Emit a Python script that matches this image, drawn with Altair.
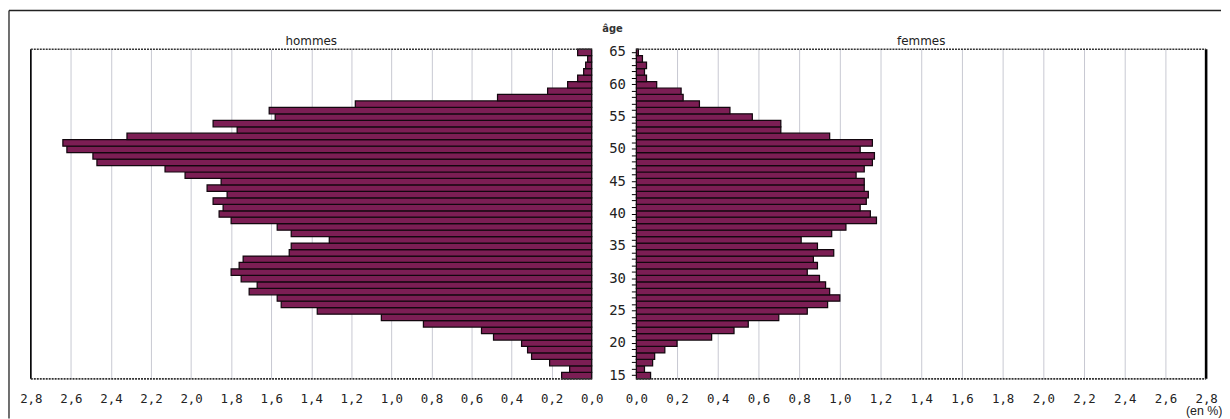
import altair as alt
import pandas as pd

# ---------------- data ----------------
ages = list(range(15, 66))  # 15 .. 65

hommes = [0.15, 0.11, 0.21, 0.30, 0.32, 0.35, 0.49, 0.55, 0.84, 1.05,   # 15-24
          1.37, 1.55, 1.57, 1.71, 1.67,                                 # 25-29
          1.75, 1.80, 1.76, 1.74, 1.51, 1.50, 1.31, 1.50, 1.57, 1.80,   # 30-39
          1.86, 1.84, 1.89, 1.82, 1.92, 1.85, 2.03, 2.13, 2.47, 2.49,   # 40-49
          2.62, 2.64, 2.32, 1.77, 1.89, 1.58, 1.61, 1.18, 0.47, 0.22,   # 50-59
          0.12, 0.07, 0.04, 0.03, 0.02, 0.07]                           # 60-65

femmes = [0.07, 0.04, 0.08, 0.09, 0.14, 0.20, 0.37, 0.48, 0.55, 0.70,   # 15-24
          0.84, 0.94, 1.00, 0.95, 0.93,                                 # 25-29
          0.90, 0.84, 0.89, 0.87, 0.97, 0.89, 0.81, 0.96, 1.03, 1.18,   # 30-39
          1.15, 1.10, 1.13, 1.14, 1.12, 1.12, 1.08, 1.12, 1.16, 1.17,   # 40-49
          1.10, 1.16, 0.95, 0.71, 0.71, 0.57, 0.46, 0.31, 0.23, 0.22,   # 50-59
          0.10, 0.05, 0.04, 0.05, 0.03, 0.01]                           # 60-65

x_ticks = [0.0, 0.2, 0.4, 0.6, 0.8, 1.0, 1.2, 1.4, 1.6, 1.8, 2.0, 2.2, 2.4, 2.6, 2.8]
x_max = 2.8
panel_titles = ["hommes", "femmes"]

df = pd.DataFrame({"age": ages, "hommes": hommes, "femmes": femmes})
one = pd.DataFrame({"v": [x_max]})

# ---------------- styling ----------------
BAR = "#7c1e54"
EDGE = "#12070e"
GRID = "#c8c9d2"
W_L, W_R, H = 565, 574, 332
MONO = "DejaVu Sans Mono"

comma = "replace(format(datum.value, '.1f'), '.', ',')"
xaxis = dict(values=x_ticks, labelExpr=comma, grid=True, gridColor=GRID, gridWidth=1,
             domain=False, ticks=False, labelPadding=14, labelFont=MONO,
             labelFontSize=12.5, labelColor="#222", labelFlush=False,
             labelOverlap=False)
yscale = alt.Scale(paddingInner=0, paddingOuter=0)


def title_text(txt, w):
    return alt.Chart(one).mark_text(text=txt, font="DejaVu Sans", fontSize=12,
                                    color="#222", baseline="alphabetic").encode(
        x=alt.value(w / 2), y=alt.value(-4))


# ---------------- left panel : hommes ----------------
men_bars = alt.Chart(df).mark_bar(color=BAR, stroke=EDGE, strokeWidth=1.25).encode(
    x=alt.X("hommes:Q", scale=alt.Scale(domain=[0, x_max], reverse=True, nice=False),
            axis=alt.Axis(title=None, **xaxis)),
    y=alt.Y("age:O", sort="descending", scale=yscale, axis=None),
)
men_left = alt.Chart(one).mark_rule(color="#000", strokeWidth=1.6).encode(
    x=alt.X("v:Q"))
men_top = alt.Chart(one).mark_rule(color="#333", strokeWidth=1.6, strokeDash=[2, 1]).encode(
    x=alt.value(0), x2=alt.value(W_L), y=alt.value(0))
men_bot = alt.Chart(one).mark_rule(color="#333", strokeWidth=1.8, strokeDash=[2, 1]).encode(
    x=alt.value(0), x2=alt.value(W_L), y=alt.value(H))
frame_top = alt.Chart(one).mark_rule(color="#222", strokeWidth=1.3).encode(
    x=alt.value(-22), x2=alt.value(1199), y=alt.value(-39))
frame_left = alt.Chart(one).mark_rule(color="#222", strokeWidth=1.3).encode(
    x=alt.value(-22), y=alt.value(-39), y2=alt.value(372))

left = alt.layer(men_bars, men_left, men_top, men_bot, frame_top, frame_left,
                 title_text(panel_titles[0], W_L)).properties(width=W_L, height=H)

# ---------------- right panel : femmes ----------------
women_bars = alt.Chart(df).mark_bar(color=BAR, stroke=EDGE, strokeWidth=1.25).encode(
    x=alt.X("femmes:Q", scale=alt.Scale(domain=[0, x_max], nice=False),
            axis=alt.Axis(title="(en %)", titleFont="Liberation Sans", titleFontSize=12.5,
                          titleFontWeight="normal", titleColor="#222", titleAnchor="end",
                          titleAlign="right", titleX=W_R + 16, titleY=36,
                          titleBaseline="alphabetic", **xaxis)),
    y=alt.Y("age:O", sort="descending", scale=yscale,
            axis=alt.Axis(title=None, labelExpr="datum.value % 5 == 0 ? datum.label : ''",
                          ticks=True, tickSize=5, tickColor="#000", domain=True,
                          domainColor="#000", domainWidth=1.5, labelFont=MONO,
                          labelFontSize=14, labelPadding=6, labelColor="#222",
                          grid=False)),
)
women_right = alt.Chart(one).mark_rule(color="#000", strokeWidth=2.6).encode(
    x=alt.X("v:Q"))
women_top = alt.Chart(one).mark_rule(color="#333", strokeWidth=1.6, strokeDash=[2, 1]).encode(
    x=alt.value(0), x2=alt.value(W_R), y=alt.value(0))
women_bot = alt.Chart(one).mark_rule(color="#333", strokeWidth=1.8, strokeDash=[2, 1]).encode(
    x=alt.value(0), x2=alt.value(W_R), y=alt.value(H))
age_label = alt.Chart(one).mark_text(text="âge", font="DejaVu Sans", fontSize=10,
                                     fontWeight="bold", color="#333").encode(
    x=alt.value(-24), y=alt.value(-20))

right = alt.layer(women_bars, women_right, women_top, women_bot, age_label,
                  title_text(panel_titles[1], W_R)).properties(width=W_R, height=H)

chart = alt.hconcat(left, right, spacing=45, bounds="flush", padding=0).configure_view(
    stroke=None).properties(background="white")

chart.save("out.html", embed_options={"renderer": "svg", "actions": False})
